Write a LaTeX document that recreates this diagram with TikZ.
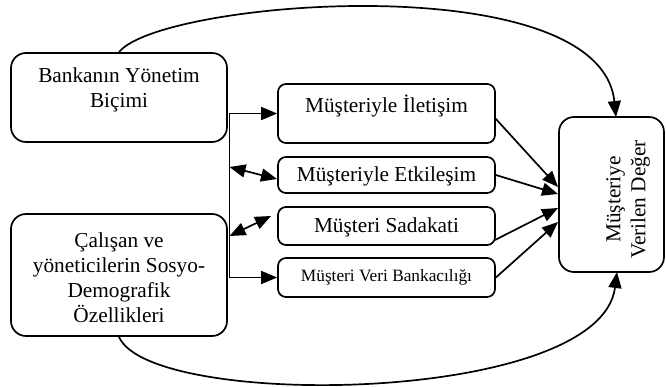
\documentclass[tikz,border=0pt]{standalone}
\usepackage{fontspec}
\setmainfont{Liberation Serif}
\usetikzlibrary{arrows.meta}
\begin{document}
\begin{tikzpicture}[x=1pt,y=-1pt,
  lw/.style={line width=1.7pt},
  bigbox/.style={lw,draw,rounded corners=15pt,inner sep=0pt},
  smallbox/.style={lw,draw,rounded corners=8pt,inner sep=0pt,minimum width=217pt},
  txt/.style={inner sep=0pt,align=center,font=\fontsize{21.3}{25}\selectfont},
  stxt/.style={inner sep=0pt,align=center,font=\fontsize{17.3}{20}\selectfont},
  arr/.style={lw,-{Triangle[length=16pt,width=13pt]}},
  dbl/.style={lw,{Triangle[length=16pt,width=13pt]}-{Triangle[length=16pt,width=13pt]}}
]
\useasboundingbox (0,0) rectangle (666,387);
% boxes
\node[bigbox,minimum width=216pt,minimum height=89pt] (A) at (119,97.5) {};
\node[txt] (At) at (119,89.5) {Bankanın Yönetim\\Biçimi};
\node[bigbox,minimum width=216pt,minimum height=122pt] (B) at (119,275) {};
\node[txt] (Bt) at (119,277.5) {Çalışan ve\\yöneticilerin Sosyo-\\Demografik\\Özellikleri};
\node[smallbox,minimum height=59pt] (I) at (386.5,113.5) {};
\node[txt] (It) at (386.5,106) {Müşteriyle İletişim};
\node[smallbox,minimum height=36pt] (E) at (386.5,175) {};
\node[txt] (Et) at (386.5,176) {Müşteriyle Etkileşim};
\node[smallbox,minimum height=38pt] (S) at (386.5,226) {};
\node[txt] (St) at (386.5,227) {Müşteri Sadakati};
\node[smallbox,minimum height=39pt] (V) at (386.5,277.5) {};
\node[stxt] (Vt) at (386.5,277.5) {Müşteri Veri Bankacılığı};
\node[bigbox,minimum width=105pt,minimum height=155pt] (R) at (611.5,194.5) {};
\node[txt,rotate=90] (Rt) at (628,199.5) {Müşteriye\\Verilen Değer};
% bus coordinates
\coordinate (bt) at (229.5,113.5);
\coordinate (bb) at (229.5,277.5);
\coordinate (e1) at (229.5,167);
\coordinate (e2) at (277,179);
\coordinate (s1) at (229.5,236);
\coordinate (s2) at (271,216);
\coordinate (i2) at (495,118);
\coordinate (s3) at (495,240);
\coordinate (r1) at (558,187);
\coordinate (r2) at (558,194);
\coordinate (r3) at (558,208);
\coordinate (r4) at (558,222);
\coordinate (rt) at (616,117);
\coordinate (rb) at (617,272);
% connectors
\draw[lw] (bt) -- (bb);
\draw[arr] (bt) -- (I.west);
\draw[arr] (bb) -- (V.west);
\draw[dbl] (e1) -- (e2);
\draw[dbl] (s1) -- (s2);
\draw[arr] (i2) -- (r1);
\draw[arr] (E.east) -- (r2);
\draw[arr] (s3) -- (r3);
\draw[arr] (V.east) -- (r4);
\draw[arr] (A.north) .. controls (160,0) and (600,-35) .. (rt);
\draw[arr] (B.south) .. controls (150,410) and (600,405) .. (rb);
\end{tikzpicture}
\end{document}
